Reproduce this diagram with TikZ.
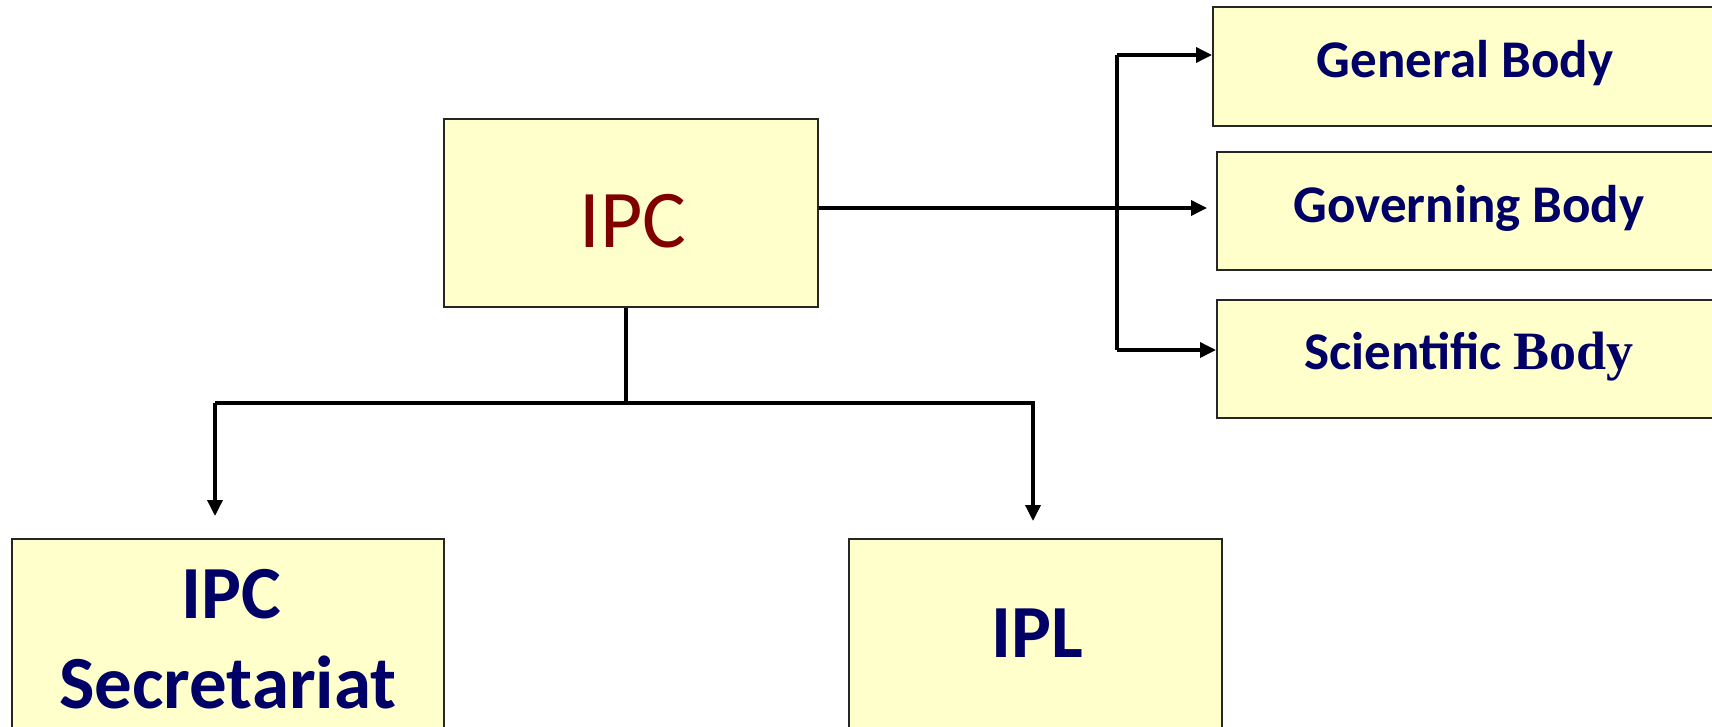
\documentclass[tikz,border=0pt]{standalone}
\usepackage{fontspec}
\setmainfont{Carlito}
\newfontfamily\serifb{Liberation Serif}
\usetikzlibrary{arrows.meta}
\definecolor{boxfill}{RGB}{255,255,204}
\definecolor{navy}{RGB}{0,0,102}
\definecolor{darkred}{RGB}{128,0,0}
\tikzset{
  box/.style={draw=black!85, line width=2pt, fill=boxfill, inner sep=0pt},
  conn/.style={line width=3.5pt, draw=black},
  arr/.style={conn, -{Triangle[length=16pt,width=15pt]}},
  lbl/.style={anchor=base, inner sep=0pt, text=navy, font=\fontsize{53}{60}\selectfont\bfseries},
  biglbl/.style={anchor=base, inner sep=0pt, text=navy, font=\fontsize{75}{86}\selectfont\bfseries}
}
\begin{document}
\begin{tikzpicture}[x=1pt,y=-1pt]
\useasboundingbox (0,0) rectangle (1712,726);
% boxes
\node[box, minimum width=374pt, minimum height=188pt] (ipc) at (631,213) {};
\node[box, minimum width=510pt, minimum height=119pt] (gen) at (1468,66.5) {};
\node[box, minimum width=506pt, minimum height=118pt] (gov) at (1470,211) {};
\node[box, minimum width=506pt, minimum height=118pt] (sci) at (1470,359) {};
\node[box, minimum width=432pt, minimum height=220pt] (sec) at (228,649) {};
\node[box, minimum width=373pt, minimum height=220pt] (ipl) at (1035.5,649) {};
% texts
\node[anchor=base, inner sep=0pt, text=darkred, font=\fontsize{82}{96}\selectfont] (ipct) at (633,247) {IPC};
\node[lbl] (gent) at (1465,77) {General Body};
\node[lbl] (govt) at (1469,222) {Governing Body};
\node[lbl] (scit) at (1469,369) {Scientific {\serifb\fontsize{54}{60}\selectfont\bfseries Body}};
\node[biglbl] (sect1) at (231,618) {IPC};
\node[biglbl] (sect2) at (228,708) {Secretariat};
\node[biglbl] (iplt) at (1037,657) {IPL};
% connectors right
\coordinate (vt) at (1117,55);
\coordinate (vb) at (1117,350);
\coordinate (vm) at (1117,208);
\draw[conn] (vt) -- (vb);
\draw[arr] (vt) -- (gen.west |- vt);
\draw[arr] (vb) -- (sci.west |- vb);
\draw[arr] (ipc.east |- vm) -- ([xshift=-9pt]gov.west |- vm);
% connectors down
\coordinate (hl) at (215,403);
\coordinate (hr) at (1035,403);
\coordinate (hd) at (1033,403);
\coordinate (hm) at (626,403);
\draw[conn] (ipc.south -| hm) -- (hm);
\draw[conn] (hl) -- (hr);
\draw[arr] (hl) -- ([yshift=22pt]sec.north -| hl);
\draw[arr] (hd) -- ([yshift=17pt]ipl.north -| hd);
\end{tikzpicture}
\end{document}
